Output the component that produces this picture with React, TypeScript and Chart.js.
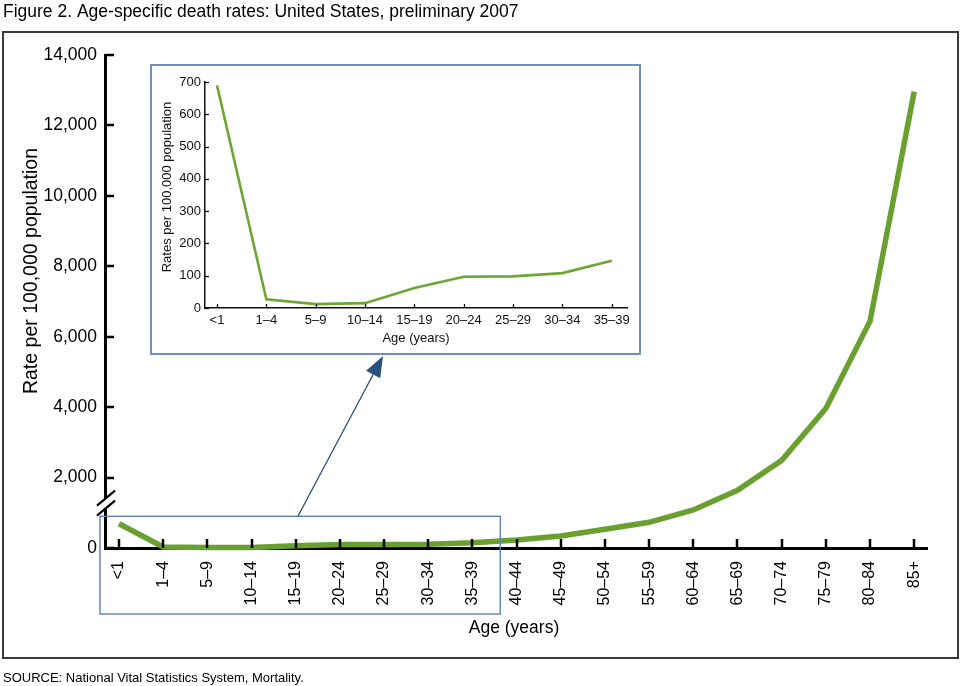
import React, { useEffect, useRef } from "react";
import { Chart, registerables } from "chart.js";

Chart.register(...registerables);

// ---------------- data ----------------
const FIGURE_TITLE = "Figure 2. Age-specific death rates: United States, preliminary 2007";
const SOURCE_NOTE = "SOURCE: National Vital Statistics System, Mortality.";
const MAIN_Y_TITLE = "Rate per 100,000 population";
const INSET_Y_TITLE = "Rates per 100,000 population";
const X_TITLE = "Age (years)";

const ageGroups = [
  "<1", "1–4", "5–9", "10–14", "15–19", "20–24", "25–29", "30–34", "35–39",
  "40–44", "45–49", "50–54", "55–59", "60–64", "65–69", "70–74", "75–79", "80–84", "85+",
];
const deathRates = [
  690, 27, 12, 15, 62, 97, 98, 108, 146,
  228, 340, 535, 730, 1080, 1640, 2490, 3960, 6440, 12960,
];
const mainYTicks = [0, 2000, 4000, 6000, 8000, 10000, 12000, 14000];
const insetCount = 9;
const insetAges = ageGroups.slice(0, insetCount);
const insetRates = deathRates.slice(0, insetCount);
const insetYTicks = [0, 100, 200, 300, 400, 500, 600, 700];

// ---------------- styles ----------------
const FONT = '"Liberation Sans", Arial, Helvetica, sans-serif';
const GREEN_MAIN = "#6aa030";
const GREEN_INSET = "#6ea634";
const BOX_BLUE = "#5d80b8";
const ARROW_BLUE = "#2b4f7e";

function line(ctx: CanvasRenderingContext2D, x1: number, y1: number, x2: number, y2: number) {
  ctx.beginPath();
  ctx.moveTo(x1, y1);
  ctx.lineTo(x2, y2);
  ctx.stroke();
}

const mainDecor = {
  id: "mainDecor",
  afterDraw(chart: any) {
    const ctx: CanvasRenderingContext2D = chart.ctx;
    const xs = chart.scales.x;
    const ys = chart.scales.y;
    const { left, bottom } = chart.chartArea;
    ctx.save();
    // tick marks (inside)
    ctx.strokeStyle = "#000";
    ctx.lineWidth = 2.5;
    ageGroups.forEach((_, i) => {
      const px = Math.round(xs.getPixelForValue(i));
      line(ctx, px, bottom, px, bottom - 9);
    });
    mainYTicks.forEach((v) => {
      const py = Math.round(ys.getPixelForValue(v));
      line(ctx, left, py, left + 9, py);
    });
    // axis break
    const by = ys.getPixelForValue(1400);
    ctx.fillStyle = "#fff";
    ctx.beginPath();
    ctx.moveTo(left - 8, by + 7);
    ctx.lineTo(left + 10, by - 8);
    ctx.lineTo(left + 10, by + 2);
    ctx.lineTo(left - 8, by + 17);
    ctx.closePath();
    ctx.fill();
    ctx.strokeStyle = "#000";
    ctx.lineWidth = 2.2;
    line(ctx, left - 8, by + 7, left + 10, by - 8);
    line(ctx, left - 8, by + 17, left + 10, by + 2);

    // highlight box around the inset region
    const rx1 = xs.getPixelForValue(-0.43);
    const rx2 = xs.getPixelForValue(insetCount - 1 + 0.63);
    const ry1 = ys.getPixelForValue(900);
    const ry2 = 614;
    ctx.strokeStyle = BOX_BLUE;
    ctx.lineWidth = 1.4;
    ctx.strokeRect(rx1, ry1, rx2 - rx1, ry2 - ry1);

    // arrow to inset
    const ax1 = xs.getPixelForValue(4.05);
    const ay1 = ry1;
    const ax2 = 383;
    const ay2 = 356;
    const ang = Math.atan2(ay2 - ay1, ax2 - ax1);
    const headLen = 21;
    const headW = 8;
    const bx = ax2 - headLen * Math.cos(ang);
    const byy = ay2 - headLen * Math.sin(ang);
    ctx.strokeStyle = ARROW_BLUE;
    ctx.lineWidth = 1.3;
    line(ctx, ax1, ay1, bx, byy);
    ctx.fillStyle = ARROW_BLUE;
    ctx.beginPath();
    ctx.moveTo(ax2, ay2);
    ctx.lineTo(bx + headW * Math.sin(ang), byy - headW * Math.cos(ang));
    ctx.lineTo(bx - headW * Math.sin(ang), byy + headW * Math.cos(ang));
    ctx.closePath();
    ctx.fill();

    // axis titles
    ctx.fillStyle = "#000";
    ctx.textBaseline = "middle";
    ctx.textAlign = "center";
    ctx.font = `19.5px ${FONT}`;
    ctx.save();
    ctx.translate(32, 271);
    ctx.rotate(-Math.PI / 2);
    ctx.fillText(MAIN_Y_TITLE, 0, 0);
    ctx.restore();
    ctx.font = `17.5px ${FONT}`;
    ctx.fillText(X_TITLE, (xs.left + xs.right) / 2 - 2, 628);

    // figure title & source
    ctx.textAlign = "left";
    ctx.font = `17.5px ${FONT}`;
    ctx.fillText(FIGURE_TITLE, 3, 12);
    ctx.font = `13px ${FONT}`;
    ctx.fillText(SOURCE_NOTE, 3, 678);

    // outer frame
    ctx.strokeStyle = "#3a3a3a";
    ctx.lineWidth = 2;
    ctx.strokeRect(3, 32, 955, 626);
    ctx.restore();
  },
};

const insetDecor = {
  id: "insetDecor",
  beforeDraw(chart: any) {
    const ctx: CanvasRenderingContext2D = chart.ctx;
    ctx.save();
    ctx.fillStyle = "#fff";
    ctx.fillRect(0, 0, chart.width, chart.height);
    ctx.restore();
  },
  afterDraw(chart: any) {
    const ctx: CanvasRenderingContext2D = chart.ctx;
    const xs = chart.scales.x;
    const ys = chart.scales.y;
    const { left, bottom } = chart.chartArea;
    ctx.save();
    ctx.strokeStyle = "#111";
    ctx.lineWidth = 1.3;
    insetAges.forEach((_, i) => {
      const px = Math.round(xs.getPixelForValue(i)) + 0.5;
      line(ctx, px, bottom, px, bottom - 4);
    });
    insetYTicks.forEach((v) => {
      const py = Math.round(ys.getPixelForValue(v)) + 0.5;
      line(ctx, left, py, left + 4, py);
    });
    ctx.fillStyle = "#111";
    ctx.textAlign = "center";
    ctx.textBaseline = "middle";
    ctx.font = `13px ${FONT}`;
    ctx.save();
    ctx.translate(17, 123);
    ctx.rotate(-Math.PI / 2);
    ctx.fillText(INSET_Y_TITLE, 0, 0);
    ctx.restore();
    ctx.fillText(X_TITLE, (xs.left + xs.right) / 2, 274);
    // frame
    ctx.strokeStyle = "#6f8fc0";
    ctx.lineWidth = 2;
    ctx.strokeRect(1, 1, chart.width - 2, chart.height - 2);
    ctx.restore();
  },
};

export default function App() {
  const mainRef = useRef<HTMLCanvasElement | null>(null);
  const insetRef = useRef<HTMLCanvasElement | null>(null);

  useEffect(() => {
    const main = new Chart(mainRef.current as HTMLCanvasElement, {
      type: "line",
      data: {
        datasets: [
          {
            data: deathRates.map((v, i) => ({ x: i, y: v })),
            borderColor: GREEN_MAIN,
            borderWidth: 5.5,
            pointRadius: 0,
            tension: 0,
            fill: false,
            clip: false,
          } as any,
        ],
      },
      options: {
        animation: false,
        responsive: false,
        devicePixelRatio: 1,
        events: [],
        layout: { padding: { left: 0, right: 33, top: 55, bottom: 0 } },
        plugins: { legend: { display: false }, tooltip: { enabled: false } },
        scales: {
          x: {
            type: "linear",
            min: -0.317,
            max: 18.29,
            afterBuildTicks: (s: any) => {
              s.ticks = ageGroups.map((_, i) => ({ value: i }));
            },
            afterFit: (s: any) => {
              s.height = 138;
            },
            ticks: {
              autoSkip: false,
              minRotation: 90,
              maxRotation: 90,
              padding: 13,
              color: "#000",
              font: { family: FONT, size: 16 },
              callback: (v: any) => ageGroups[v] ?? "",
            },
            grid: { display: false, drawOnChartArea: false, drawTicks: false },
            border: { display: true, color: "#000", width: 3 },
          },
          y: {
            type: "linear",
            min: 0,
            max: 14000,
            afterBuildTicks: (s: any) => {
              s.ticks = mainYTicks.map((v) => ({ value: v }));
            },
            afterFit: (s: any) => {
              s.width = 105;
            },
            ticks: {
              padding: 8,
              color: "#000",
              font: { family: FONT, size: 17.5 },
              callback: (v: any) => Number(v).toLocaleString("en-US"),
            },
            grid: { display: false, drawOnChartArea: false, drawTicks: false },
            border: { display: true, color: "#000", width: 3 },
          },
        },
      } as any,
      plugins: [mainDecor],
    });

    const inset = new Chart(insetRef.current as HTMLCanvasElement, {
      type: "line",
      data: {
        datasets: [
          {
            data: insetRates.map((v, i) => ({ x: i, y: v })),
            borderColor: GREEN_INSET,
            borderWidth: 2.6,
            pointRadius: 0,
            tension: 0,
            fill: false,
            clip: false,
          } as any,
        ],
      },
      options: {
        animation: false,
        responsive: false,
        devicePixelRatio: 1,
        events: [],
        layout: { padding: { left: 0, right: 14, top: 18, bottom: 0 } },
        plugins: { legend: { display: false }, tooltip: { enabled: false } },
        scales: {
          x: {
            type: "linear",
            min: -0.243,
            max: 8.31,
            afterBuildTicks: (s: any) => {
              s.ticks = insetAges.map((_, i) => ({ value: i }));
            },
            afterFit: (s: any) => {
              s.height = 47;
            },
            ticks: {
              autoSkip: false,
              minRotation: 0,
              maxRotation: 0,
              padding: 5,
              color: "#111",
              font: { family: FONT, size: 13 },
              callback: (v: any) => insetAges[v] ?? "",
            },
            grid: { display: false, drawOnChartArea: false, drawTicks: false },
            border: { display: true, color: "#111", width: 1.5 },
          },
          y: {
            type: "linear",
            min: 0,
            max: 700,
            afterBuildTicks: (s: any) => {
              s.ticks = insetYTicks.map((v) => ({ value: v }));
            },
            afterFit: (s: any) => {
              s.width = 55;
            },
            ticks: {
              padding: 4,
              color: "#111",
              font: { family: FONT, size: 13 },
            },
            grid: { display: false, drawOnChartArea: false, drawTicks: false },
            border: { display: true, color: "#111", width: 1.5 },
          },
        },
      } as any,
      plugins: [insetDecor],
    });

    return () => {
      main.destroy();
      inset.destroy();
    };
  }, []);

  return (
    <div style={{ position: "fixed", left: 0, top: 0, width: 960, height: 686, background: "#fff" }}>
      <canvas
        ref={mainRef}
        width={960}
        height={686}
        style={{ position: "absolute", left: 0, top: 0, width: 960, height: 686 }}
      />
      <canvas
        ref={insetRef}
        width={491}
        height={291}
        style={{ position: "absolute", left: 150, top: 64, width: 491, height: 291 }}
      />
    </div>
  );
}
